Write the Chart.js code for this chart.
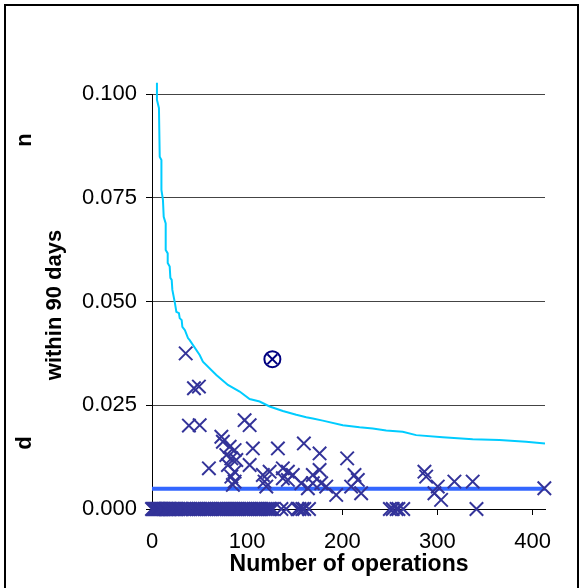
<!DOCTYPE html>
<html>
<head>
<meta charset="utf-8">
<script src="https://cdn.jsdelivr.net/npm/chart.js@4/dist/chart.umd.min.js"></script>
<style>
  html, body { margin: 0; padding: 0; background: #ffffff; }
  #wrap { width: 584px; height: 588px; position: relative; }
</style>
</head>
<body>
<div id="wrap"><canvas id="c" width="584" height="588"></canvas></div>
<script>
// ---- data ----
const xTicks = [0, 100, 200, 300, 400];
const yTicks = [0, 0.025, 0.05, 0.075, 0.1];

// hospitals with at least one death: number of operations / death rate
const opsNonZero = [35.4, 44.1, 49.3, 38.8, 50.1, 97.3, 102.6, 72.9, 74.5, 81.6, 86.8, 106.0, 78.1, 83.4, 79.8, 88.6, 59.8, 102.6, 86.8, 83.4, 86.8, 85.0, 116.5, 118.3, 132.3, 159.6, 176.1, 205.1, 212.8, 216.3, 209.3, 137.5, 142.8, 148.0, 123.6, 120.1, 142.8, 156.9, 169.0, 176.1, 177.8, 183.1, 193.6, 163.8, 219.8, 286.3, 288.1, 300.3, 296.8, 303.8, 317.8, 337.0, 412.3, 137.5, 169.0];
const rateNonZero = [0.0375, 0.0291, 0.0295, 0.0201, 0.0202, 0.0214, 0.0202, 0.0174, 0.0162, 0.0150, 0.0142, 0.0146, 0.0130, 0.0122, 0.0106, 0.0118, 0.0098, 0.0106, 0.0090, 0.0078, 0.0066, 0.0058, 0.0082, 0.0066, 0.0146, 0.0158, 0.0134, 0.0122, 0.0082, 0.0070, 0.0054, 0.0098, 0.0090, 0.0082, 0.0090, 0.0054, 0.0070, 0.0062, 0.0082, 0.0094, 0.0062, 0.0054, 0.0034, 0.0050, 0.0038, 0.0090, 0.0078, 0.0054, 0.0038, 0.0022, 0.0066, 0.0066, 0.0050, 0.0074, 0.0062];

// hospitals with zero deaths: number of operations
const opsZero = [0, 1, 2, 3, 4, 5, 6, 7, 8, 9, 10, 11, 12, 14, 15, 16, 18, 19, 20, 22, 23, 25, 26, 28, 30, 31, 34, 36, 38, 40, 43, 45, 47, 49, 51, 53, 55, 57, 59, 61, 63, 66, 68, 70, 72, 74, 76, 78, 80, 82, 84, 86, 88, 90, 92, 94, 96, 98, 100, 102, 104, 107, 109, 111, 113, 115, 117, 119, 121, 123, 125, 127, 136, 141, 153, 155, 158, 160, 165, 250, 253, 257, 259, 264, 341];

// outlier (circled)
const outlierOps = [126.5];
const outlierRate = [0.0361];

// overall mean rate
const meanRate = 0.0049;
const meanRange = [0, 413];

// upper control limit (funnel)
const limitOps = [5.2, 5.2, 7.3, 8.1, 9.9, 9.9, 11.5, 12.3, 14.4, 14.4, 16.5, 16.5, 18.6, 19.3, 20.7, 21.4, 24.1, 25.6, 28.3, 29.1, 31.2, 31.9, 34.6, 37.8, 39.6, 50.1, 53.5, 67.6, 79.8, 92.1, 102.6, 113.1, 123.6, 137.5, 151.6, 162.1, 169.0, 179.5, 200.5, 218.1, 232.0, 246.1, 263.5, 277.6, 305.5, 337.0, 365.1, 393.1, 413.0];
const limitRate = [0.1027, 0.0986, 0.0966, 0.0849, 0.0841, 0.0769, 0.0745, 0.0704, 0.0688, 0.0624, 0.0616, 0.0593, 0.0584, 0.0557, 0.0552, 0.0528, 0.0496, 0.0475, 0.0472, 0.0460, 0.0455, 0.0439, 0.0431, 0.0412, 0.0407, 0.0371, 0.0355, 0.0323, 0.0299, 0.0283, 0.0265, 0.0259, 0.0247, 0.0236, 0.0227, 0.0221, 0.0218, 0.0213, 0.0202, 0.0197, 0.0194, 0.0189, 0.0186, 0.0178, 0.0173, 0.0168, 0.0166, 0.0162, 0.0158];

const xTitle = 'Number of operations';
const yTitle = 'within 90 days';
const yFrag1 = 'n';
const yFrag2 = 'd';

// ---- build ----
const FONT = "'Liberation Sans', Arial, sans-serif";
const markerColor = '#333399';

const pts = (xs, ys) => xs.map((x, i) => ({ x: x, y: ys[i] }));

function rotText(ctx, text, x, y, size) {
  ctx.save();
  ctx.fillStyle = '#000000';
  ctx.textAlign = 'center';
  ctx.textBaseline = 'middle';
  ctx.font = 'bold ' + size + 'px ' + FONT;
  ctx.translate(x, y);
  ctx.rotate(-Math.PI / 2);
  ctx.fillText(text, 0, 0);
  ctx.restore();
}

const framePlugin = {
  id: 'frame',
  beforeDraw(chart) {
    const ctx = chart.ctx;
    ctx.save();
    ctx.fillStyle = '#ffffff';
    ctx.fillRect(0, 0, chart.width, chart.height);
    ctx.restore();
  },
  afterDraw(chart) {
    const ctx = chart.ctx;
    ctx.save();
    ctx.strokeStyle = '#000000';
    ctx.lineWidth = 2;
    ctx.beginPath();
    ctx.moveTo(5, 600);
    ctx.lineTo(5, 5);
    ctx.lineTo(578, 5);
    ctx.lineTo(578, 600);
    ctx.stroke();
    ctx.fillStyle = '#000000';
    ctx.textAlign = 'center';
    ctx.textBaseline = 'middle';
    ctx.font = 'bold 23px ' + FONT;
    ctx.fillText(xTitle, 349, 565);
    ctx.restore();
    rotText(ctx, yTitle, 55, 305, 22);
    rotText(ctx, yFrag1, 25, 140, 22);
    rotText(ctx, yFrag2, 25, 443, 22);
  }
};

new Chart(document.getElementById('c'), {
  type: 'scatter',
  data: {
    datasets: [
      {
        label: 'outlier circle',
        data: pts(outlierOps, outlierRate),
        pointStyle: 'circle',
        pointRadius: 8,
        pointBorderWidth: 2,
        pointBorderColor: '#000080',
        pointBackgroundColor: 'rgba(0,0,0,0)',
        clip: false,
        order: 0
      },
      {
        label: 'outlier cross',
        data: pts(outlierOps, outlierRate),
        pointStyle: 'crossRot',
        pointRadius: 7,
        pointBorderWidth: 2,
        pointBorderColor: '#000080',
        clip: false,
        order: 0
      },
      {
        label: 'hospitals',
        data: pts(opsNonZero, rateNonZero),
        pointStyle: 'crossRot',
        pointRadius: 9.5,
        pointBorderWidth: 2,
        pointBorderColor: markerColor,
        clip: false,
        order: 1
      },
      {
        label: 'zero',
        data: opsZero.map(x => ({ x: x, y: 0 })),
        pointStyle: 'crossRot',
        pointRadius: 9.5,
        pointBorderWidth: 2,
        pointBorderColor: markerColor,
        clip: false,
        order: 1
      },
      {
        label: 'mean',
        type: 'line',
        data: meanRange.map(x => ({ x: x, y: meanRate })),
        borderColor: '#3366FF',
        borderWidth: 4,
        pointRadius: 0,
        showLine: true,
        clip: false,
        order: 2
      },
      {
        label: 'limit',
        type: 'line',
        data: pts(limitOps, limitRate),
        borderColor: '#00CCFF',
        borderWidth: 2,
        pointRadius: 0,
        showLine: true,
        tension: 0,
        clip: false,
        order: 3
      }
    ]
  },
  options: {
    responsive: false,
    animation: false,
    events: [],
    layout: { padding: { left: 0, top: 94, right: 39, bottom: 0 } },
    plugins: {
      legend: { display: false },
      tooltip: { enabled: false }
    },
    scales: {
      x: {
        type: 'linear',
        min: 0,
        max: 413,
        afterBuildTicks: s => { s.ticks = xTicks.map(v => ({ value: v })); },
        afterFit: s => { s.height = 79; },
        border: { display: true, color: '#000000', width: 1 },
        grid: { drawOnChartArea: false, drawTicks: true, tickLength: 6, tickColor: '#000000' },
        ticks: {
          color: '#000000',
          padding: 14,
          font: { family: FONT, size: 22 },
          maxRotation: 0,
          callback: v => String(v)
        }
      },
      y: {
        type: 'linear',
        min: 0,
        max: 0.1,
        afterBuildTicks: s => { s.ticks = yTicks.map(v => ({ value: v })); },
        afterFit: s => { s.width = 152; },
        border: { display: true, color: '#000000', width: 1 },
        grid: { color: '#444444', lineWidth: 1, drawTicks: true, tickLength: 6, tickColor: '#000000' },
        ticks: {
          color: '#000000',
          padding: 9,
          font: { family: FONT, size: 22 },
          callback: v => Number(v).toFixed(3)
        }
      }
    }
  },
  plugins: [framePlugin]
});
</script>
</body>
</html>
